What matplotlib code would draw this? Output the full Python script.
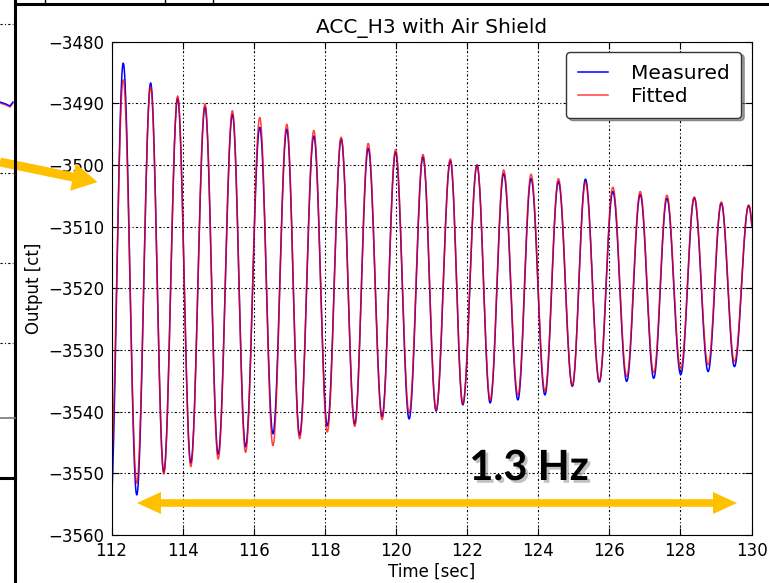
import matplotlib

matplotlib.use("Agg")

import matplotlib.pyplot as plt
import matplotlib.patheffects as pe
import numpy as np
from matplotlib.patches import Polygon, FancyArrow

# extrema of the ring-down (time [sec], output [ct])
peak_t = [112.33, 113.10, 113.86, 114.63, 115.40, 116.17, 116.93, 117.69,
          118.46, 119.22, 119.99, 120.76, 121.53, 122.28, 123.03, 123.80,
          124.57, 125.33, 126.10, 126.87, 127.62, 128.39, 129.15, 129.92]
trough_t = [111.96, 112.71, 113.47, 114.23, 115.00, 115.77, 116.54, 117.29,
            118.07, 118.84, 119.61, 120.37, 121.13, 121.88, 122.65, 123.43,
            124.19, 124.96, 125.72, 126.49, 127.25, 128.01, 128.78, 129.52,
            130.30]

measured_peak = [-3483.5, -3486.7, -3489.2, -3490.6, -3491.8, -3493.9, -3494.2, -3495.3,
                 -3495.8, -3497.3, -3497.9, -3498.7, -3499.3, -3500.0, -3501.4, -3502.2,
                 -3502.7, -3502.3, -3504.3, -3504.8, -3505.4, -3505.3, -3506.2, -3506.6]
measured_trough = [-3557.0, -3553.5, -3549.8, -3548.3, -3546.9, -3545.7, -3543.6, -3543.8,
                   -3542.3, -3542.0, -3540.8, -3541.2, -3539.9, -3538.9, -3538.6, -3538.1,
                   -3537.3, -3535.9, -3535.2, -3535.1, -3534.6, -3534.0, -3533.5, -3532.7,
                   -3532.0]

fitted_peak = [-3486.2, -3487.3, -3488.8, -3490.1, -3491.2, -3492.3, -3493.4, -3494.4,
               -3495.5, -3496.5, -3497.5, -3498.3, -3499.0, -3500.0, -3500.8, -3501.5,
               -3502.2, -3502.8, -3503.6, -3504.3, -3504.9, -3505.2, -3506.0, -3506.5]
fitted_trough = [-3551.5, -3551.6, -3550.1, -3548.9, -3547.7, -3546.6, -3545.5, -3544.4,
                 -3543.3, -3542.4, -3541.3, -3540.2, -3539.7, -3538.7, -3538.1, -3537.3,
                 -3536.7, -3535.8, -3535.0, -3534.3, -3533.7, -3533.1, -3532.4, -3531.9,
                 -3531.3]

y_ticks = [-3480, -3490, -3500, -3510, -3520, -3530, -3540, -3550, -3560]
x_ticks = [112, 114, 116, 118, 120, 122, 124, 126, 128, 130]


def ring_down(troughs_t, troughs_v, peaks_t, peaks_v, n=30):
    """Join alternating extrema with half-cosine swings."""
    knots = []
    for i in range(len(troughs_t)):
        knots.append((troughs_t[i], troughs_v[i]))
        if i < len(peaks_t):
            knots.append((peaks_t[i], peaks_v[i]))
    ts, vs = [], []
    for (t0, v0), (t1, v1) in zip(knots[:-1], knots[1:]):
        s = np.linspace(0.0, 1.0, n, endpoint=False)
        ts.append(t0 + (t1 - t0) * s)
        vs.append(v0 + (v1 - v0) * (1 - np.cos(np.pi * s)) / 2)
    ts.append([knots[-1][0]])
    vs.append([knots[-1][1]])
    return np.concatenate(ts), np.concatenate(vs)


W, H = 769, 583
fig = plt.figure(figsize=(W / 100, H / 100), dpi=100)
fig.patch.set_facecolor("white")

ax = fig.add_axes([111.5 / W, 1 - 535 / H, 640 / W, (535 - 41.6) / H])

t_m, v_m = ring_down(trough_t, measured_trough, peak_t, measured_peak)
t_f, v_f = ring_down(trough_t, fitted_trough, peak_t, fitted_peak)
ax.plot(t_m, v_m, color="#0000ff", lw=1.1, label="Measured")
ax.plot(t_f, v_f, color="#ff0000", lw=1.1, alpha=0.75, label="Fitted")

ax.set_xlim(112, 130)
ax.set_ylim(-3560, -3480)
ax.set_xticks(x_ticks)
ax.set_yticks(y_ticks)
ax.tick_params(direction="in", length=5, top=True, right=True, labelsize=12, pad=5)
ax.grid(True, color="black", linestyle=(0, (2, 2, 1, 2)), linewidth=0.8)
ax.set_xlabel("Time [sec]", fontsize=12, labelpad=2)
ax.set_ylabel("Output [ct]", fontsize=12)
ax.set_title("ACC_H3 with Air Shield", fontsize=14.5, pad=6)
leg = ax.legend(loc="upper right", fontsize=14.5, fancybox=True, shadow=True,
                handlelength=1.5, handletextpad=1.1, labelspacing=0.2,
                borderpad=0.6, borderaxespad=0.5, framealpha=1)
leg.get_frame().set_edgecolor("#333333")

# slide overlay drawn in pixel coordinates
ov = fig.add_axes([0, 0, 1, 1], zorder=10)
ov.set_xlim(0, W)
ov.set_ylim(H, 0)
ov.axis("off")
ov.patch.set_alpha(0)

ov.plot([15, 15], [0, H], color="black", lw=2.2)
ov.plot([15, W], [4, 4], color="black", lw=2.2)
for x in (45, 165, 213):
    ov.plot([x, x], [0, 4], color="black", lw=1)
ov.plot([0, 15], [418, 418], color="#777777", lw=1.2)
ov.plot([0, 15], [478, 478], color="black", lw=2.2)
for y in (24, 173, 263, 343):
    ov.plot([0, 13], [y, y], color="black", lw=0.8, linestyle=(0, (2, 2, 1, 2)))
ov.plot([0, 6, 10, 13], [103, 105, 107, 103], color="#ff0000", lw=1.2, alpha=0.7)
ov.plot([0, 6, 10, 13], [102, 104, 106, 102], color="#0000ff", lw=1.0)

gold = "#ffc000"
ov.add_patch(FancyArrow(0, 162, 97 - 24, 20 * (73 / 97), width=9, head_width=28,
                        head_length=25, length_includes_head=False,
                        color=gold, lw=0))

yc, hw, hh, hl = 503, 3.8, 11, 24
ov.add_patch(Polygon([(137, yc), (137 + hl, yc - hh), (137 + hl, yc - hw),
                      (737 - hl, yc - hw), (737 - hl, yc - hh), (737, yc),
                      (737 - hl, yc + hh), (737 - hl, yc + hw),
                      (137 + hl, yc + hw), (137 + hl, yc + hh)],
                     closed=True, facecolor=gold, edgecolor="none"))

ov.text(529, 468, "1.3 Hz", fontsize=30, fontweight="bold", family="Lato",
        ha="center", va="center", color="black",
        path_effects=[pe.withSimplePatchShadow(offset=(2, -2), shadow_rgbFace="#999999", alpha=0.6)])

fig.savefig("out.png", dpi=100)
